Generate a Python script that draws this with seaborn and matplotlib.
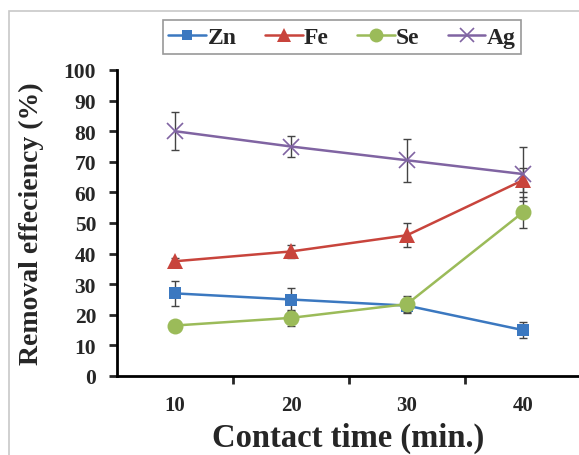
import pandas as pd
import numpy as np
import matplotlib
matplotlib.use('Agg')
import matplotlib.pyplot as plt
import seaborn as sns
from matplotlib.patches import Rectangle
from matplotlib.lines import Line2D

# values
times = [10, 20, 30, 40]
metals = ['Zn', 'Fe', 'Se', 'Ag']
zn = [27.0, 25.0, 23.0, 15.0]
fe = [37.5, 40.7, 46.0, 64.0]
se = [16.5, 19.0, 23.5, 53.5]
ag = [80.0, 75.0, 70.5, 66.0]
zn_err = [4.2, 3.6, 2.5, 2.5]
fe_err = [1.0, 2.0, 4.0, 4.0]
se_err = [1.0, 2.5, 2.5, 5.0]
ag_err = [6.3, 3.5, 7.0, 8.7]
y_ticks = [0, 10, 20, 30, 40, 50, 60, 70, 80, 90, 100]

df = pd.DataFrame({'time': times * 4,
                   'metal': np.repeat(metals, 4),
                   'value': zn + fe + se + ag,
                   'err': zn_err + fe_err + se_err + ag_err})

sns.set_theme(style='ticks')
plt.rcParams['font.family'] = ['Liberation Serif', 'DejaVu Serif']
plt.rcParams['font.weight'] = 'bold'

colors = {'Zn': '#3B78C0', 'Fe': '#C8443C', 'Se': '#9BBB59', 'Ag': '#8064A2'}
marks = {'Zn': 's', 'Fe': '^', 'Se': 'o', 'Ag': 'x'}
msize = {'Zn': 9, 'Fe': 11, 'Se': 11.5, 'Ag': 12}

fig = plt.figure(figsize=(5.79, 4.56), dpi=100)
fig.patches.append(Rectangle((9/579, -0.1), 1.2, 1 - 12/456 + 0.1,
                             transform=fig.transFigure, fill=False,
                             edgecolor='#c8c8c8', linewidth=1.2))
ax = fig.add_axes([117/579, 79/456, 464/579, 306/456])

for m in metals:
    d = df[df['metal'] == m]
    ax.errorbar(d['time'], d['value'], yerr=d['err'], fmt='none',
                ecolor='#444444', elinewidth=1, capsize=2.6, capthick=1, zorder=1)

handles = []
for m in metals:
    d = df[df['metal'] == m]
    ew = 1.2 if m == 'Ag' else 0
    sns.lineplot(data=d, x='time', y='value', color=colors[m], marker=marks[m],
                 markersize=msize[m], markeredgewidth=ew, markeredgecolor=colors[m],
                 linewidth=1.8, ax=ax, zorder=3)
    handles.append(Line2D([], [], color=colors[m], marker=marks[m], linewidth=1.8,
                          markersize=msize[m] - 1.5, markeredgewidth=ew,
                          markeredgecolor=colors[m], label=m))

leg = fig.legend(handles=handles, loc='center', bbox_to_anchor=(342/579, 1 - 38/456),
                 ncol=4, frameon=True, fancybox=False, handlelength=1.6,
                 handletextpad=0.05, columnspacing=1.2, borderpad=0.25,
                 borderaxespad=0,
                 prop={'family': 'Liberation Serif', 'weight': 'bold', 'size': 17})
leg.get_frame().set_edgecolor('#7f7f7f')
leg.get_frame().set_linewidth(1.2)

ax.set_xlim(5, 45)
ax.set_ylim(0, 100)
ax.set_yticks(y_ticks)
ax.set_xticks(times)
ax.set_xticks([15, 25, 35], minor=True)
ax.tick_params(axis='x', which='major', length=0, pad=14, labelsize=15)
ax.tick_params(axis='x', which='minor', length=6, width=2, direction='out')
ax.tick_params(axis='y', length=6, width=2, direction='out', labelsize=15.5, pad=9)
for lab in ax.get_xticklabels() + ax.get_yticklabels():
    lab.set_fontweight('bold')

sns.despine(ax=ax)
ax.spines['left'].set_linewidth(2)
ax.spines['bottom'].set_linewidth(2)
ax.spines['left'].set_color('black')
ax.spines['bottom'].set_color('black')

ax.set_xlabel('Contact time (min.)', fontsize=23.5, fontweight='bold')
ax.set_ylabel('Removal effeciency (%)', fontsize=20, fontweight='bold', labelpad=14)
ax.xaxis.set_label_coords((348 - 117) / 464, -46 / 306)

fig.savefig('out.png', dpi=100)
